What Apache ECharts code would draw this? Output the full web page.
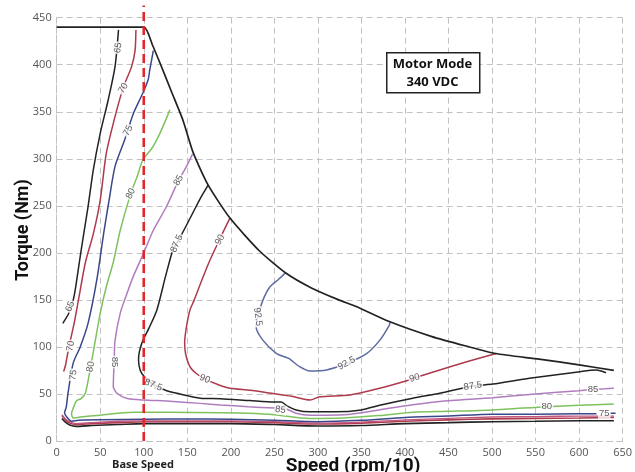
<!DOCTYPE html>
<html>
<head>
<meta charset="utf-8">
<script src="https://cdn.jsdelivr.net/npm/echarts@6/dist/echarts.min.js"></script>
<style>
  html, body { margin: 0; padding: 0; background: #fff; }
  #chart { width: 635px; height: 472px; }
</style>
</head>
<body>
<div id="chart"></div>
<script>
// Axis ticks
const speedTicks = { min: 0, max: 650, step: 50 };
const torqueTicks = { min: 0, max: 450, step: 50 };

// Base speed marker (rpm/10) and its top reach
const baseSpeed = [[100, 0], [100, 463]];

// Peak torque / power envelope
const envelope = [[0,440],[100,440],[110,421],[119,401],[132,371],[145,341],[157,306],[174,272],[199,237],[233,202],[264,178],[292,163],[324,150],[344,143],[382,127],[431,111],[470,101],[504,93],[554,87],[600,81],[640,75]];

// Efficiency contours (speed, torque)
const eff65Upper = [[71,437],[67,398],[59,362],[50,327],[42,288],[36,249],[30,214],[26,190],[22,165],[19,150],[14,136],[7,125]];
const eff65Lower = [[6,24],[10,20],[15,17],[22,15.5],[40,16.5],[70,17.5],[100,18.5],[150,18.5],[200,18.5],[250,17.5],[300,16],[350,16.5],[400,18.5],[450,19.5],[500,20.5],[550,21],[600,21.5],[640,21.5]];
const eff70Upper = [[91,437],[90,415],[86,398],[77,377],[69,352],[57,306],[50,256],[42,220],[33,190],[25,150],[20,125],[15,104],[12,90],[10,80],[8,74]];
const eff70Lower = [[6,27],[10,22.5],[15,19],[22,17.5],[40,18.5],[70,19.5],[100,20.5],[150,20.5],[200,20.5],[250,19.5],[300,18],[350,19],[400,21],[450,22.5],[500,23.5],[550,24],[600,24.5],[640,25]];
const eff72Lower = [[6,28],[10,23.5],[16,20],[22,18.5],[40,19.5],[70,21],[100,21.5],[150,21.5],[200,21.5],[250,20.5],[300,19],[350,20],[400,22.5],[450,24],[500,25.5],[550,26],[600,26.5],[640,26.5]];
const eff75 = [[111,415],[107,395],[105,384],[99,370],[88,348],[78,320],[67,292],[60,255],[54,221],[46,171],[36,125],[27,100],[19,83],[13,51],[11,36],[9,30],[12,25],[17,21],[25,22],[50,22.5],[100,23],[150,23.5],[200,23],[250,22],[300,20.5],[350,22],[400,25],[450,26.5],[500,28.5],[550,28.5],[600,29],[620,29]];
const eff75Tail = [[636,29.5],[642,29.5]];
const eff80 = [[130,352],[120,330],[110,312],[99,299],[92,280],[85,263],[73,224],[65,190],[57,164],[50,136],[44,105],[39,79],[33,51],[28,45],[23,43],[19,35],[17,29],[19,24.5],[27,25.5],[50,27.5],[88,30.5],[130,30.5],[188,30],[220,29.5],[250,28],[290,24],[330,24.5],[370,27],[409,30.5],[450,31.5],[501,33],[563,36.5],[600,38],[640,39.3]];
const eff85 = [[156,305],[148,290],[140,277],[126,249],[111,224],[100,200],[88,175],[80,155],[73,136],[67,107],[66,84],[65,58],[69,51],[80,45.5],[100,43.5],[126,42.5],[165,40],[188,38.3],[220,36.5],[250,35],[262,34.5],[275,29.5],[291,27.5],[330,28],[370,33],[409,38.5],[440,42],[501,46],[550,50],[600,53.5],[616,55],[630,55.5],[640,56]];
const eff875 = [[174,272],[165,258],[155,240],[138,210],[134,205],[125,175],[115,139],[106,120],[99,107],[95,95],[94,86],[96,75],[101,68],[111,60],[125,54],[138,50.7],[165,45.5],[188,45],[222,43],[250,41.5],[258,41.5],[265,37],[275,33],[291,31],[320,31],[350,33],[371,38],[409,45.5],[440,50.7],[478,58.4],[501,60.5],[543,66.6],[601,73.7],[620,75.4],[631,72.6]];
const eff90 = [[199,237],[190,220],[187,214],[175,190],[165,167],[158,150],[153,139],[149,121],[147,105],[148,93],[153,79],[160,72],[170,66],[185,60],[199,56],[222,54],[245,51],[270,47.5],[291,43.6],[302,47],[337,49],[371,56],[405,64.8],[411,67],[440,75.5],[470,84],[505,93]];
const eff925 = [[263,179],[255,172],[245,164],[237,150],[231,132],[229,121.5],[237,107],[252.6,93],[266,88],[279,79],[291,74.4],[310,75.5],[333,82.6],[356,93],[371,107],[382,123],[383,126.5]];

// Contour level labels: [text, speed, torque, rotation]
const contourLabels = [
  ['65', 70.5, 418, 82], ['65', 15.5, 143, 70],
  ['70', 76.5, 375, 58], ['70', 16, 101, 80],
  ['75', 82, 330, 62], ['75', 19, 70, 80], ['75', 629, 29, 0],
  ['80', 85, 263, 64], ['80', 39, 79, 78], ['80', 563, 36.5, 0],
  ['85', 140, 277, 60], ['85', 66, 84, -90], ['85', 257, 33, -8], ['85', 616, 55, 0],
  ['87.5', 138, 210, 66], ['87.5', 111, 59.5, -22], ['87.5', 478, 58.4, 8],
  ['90', 187.5, 214, 62], ['90', 170, 66, -24], ['90', 411, 67, 16],
  ['92.5', 231, 132, -82], ['92.5', 333, 82.6, 28]
];

const colBlack = '#222222';
const colRed = '#ad3a4c';
const colNavy = '#3b4789';
const colGreen = '#7ec25e';
const colPurple = '#b07cc0';
const colSlate = '#5e6ba0';
const colPink = '#c2567e';

function contour(data, color, width) {
  return {
    type: 'line', data: data, showSymbol: false, symbol: 'none',
    smooth: 0.25, lineStyle: { color: color, width: width || 1.5 },
    silent: true, z: 3
  };
}

const chart = echarts.init(document.getElementById('chart'), null, { renderer: 'canvas' });

const tickFont = { color: '#555', fontSize: 11, fontFamily: 'Open Sans' };
const dashStyle = { color: '#c2c2c2', type: [6, 4], width: 1 };
const boxFont = { fontFamily: 'Open Sans', fontWeight: 'bold', fontSize: 13, fill: '#111', textAlign: 'center', textVerticalAlign: 'middle' };
const titleFont = { fontFamily: 'Roboto', fontWeight: 'bold', fill: '#111', textAlign: 'center', textVerticalAlign: 'middle' };

chart.setOption({
  animation: false,
  backgroundColor: '#fff',
  grid: { left: 56.7, right: 12, top: 17.7, bottom: 31 },
  xAxis: {
    type: 'value', min: speedTicks.min, max: speedTicks.max, interval: speedTicks.step,
    axisLine: { show: true, lineStyle: dashStyle }, axisTick: { show: false },
    axisLabel: Object.assign({ margin: 6 }, tickFont),
    splitLine: { show: true, lineStyle: dashStyle }
  },
  yAxis: {
    type: 'value', min: torqueTicks.min, max: torqueTicks.max, interval: torqueTicks.step,
    axisLine: { show: true, lineStyle: dashStyle }, axisTick: { show: false },
    axisLabel: Object.assign({ margin: 5 }, tickFont),
    splitLine: { show: true, lineStyle: dashStyle }
  },
  graphic: [
    { type: 'rect', left: 386, top: 52, z: 100, shape: { width: 93, height: 40 },
      style: { fill: '#fff', stroke: '#222', lineWidth: 1.5 } },
    { type: 'text', x: 432.5, y: 64, z: 101, style: Object.assign({ text: 'Motor Mode' }, boxFont) },
    { type: 'text', x: 432.5, y: 82, z: 101, style: Object.assign({ text: '340 VDC' }, boxFont) },
    { type: 'text', x: 143, y: 465, z: 100, style: { text: 'Base Speed', fontFamily: 'Open Sans', fontWeight: 'bold', fontSize: 11, fill: '#222', textAlign: 'center', textVerticalAlign: 'middle' } },
    { type: 'text', x: 353, y: 466, z: 100, style: Object.assign({ text: 'Speed (rpm/10)', fontSize: 19 }, titleFont) },
    { type: 'text', x: 23, y: 230, rotation: Math.PI / 2, z: 100, style: Object.assign({ text: 'Torque (Nm)', fontSize: 18 }, titleFont) }
  ],
  series: [
    contour(eff65Lower, colBlack, 1.6),
    contour(eff70Lower, colRed, 1.6),
    contour(eff72Lower, colPink, 1.3),
    contour(eff65Upper, colBlack),
    contour(eff70Upper, colRed),
    contour(eff75, colNavy),
    contour(eff75Tail, colNavy),
    contour(eff80, colGreen),
    contour(eff85, colPurple),
    contour(eff875, colBlack),
    contour(eff90, colRed),
    contour(eff925, colSlate),
    {
      type: 'line', data: envelope, showSymbol: false, symbol: 'none', smooth: 0.2,
      lineStyle: { color: colBlack, width: 1.7 }, silent: true, z: 4
    },
    {
      type: 'scatter', symbolSize: 0, silent: true, z: 5,
      data: contourLabels.map(function (l) {
        return { value: [l[1], l[2]], name: l[0], label: { rotate: l[3] } };
      }),
      label: {
        show: true, position: 'inside', formatter: '{b}',
        fontSize: 9.5, fontFamily: 'Liberation Sans', color: '#333',
        backgroundColor: '#fff', padding: [0, 1]
      }
    },
    {
      type: 'line', data: baseSpeed, showSymbol: false, symbol: 'none', clip: false,
      lineStyle: { color: '#e4262b', width: 2.6, type: [9, 5] }, silent: true, z: 6
    }
  ]
});
</script>
</body>
</html>
